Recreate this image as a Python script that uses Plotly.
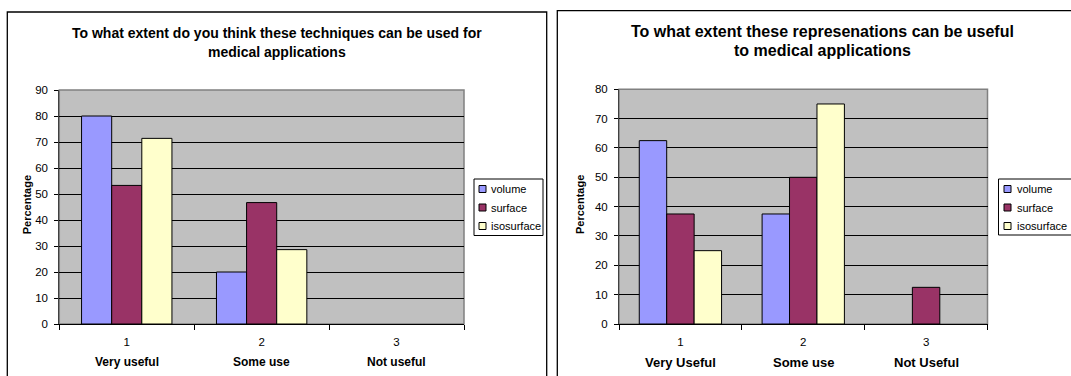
import plotly.graph_objects as go

# ---- data ----------------------------------------------------------------
series_names = ["volume", "surface", "isosurface"]
series_colors = ["#9999FF", "#993366", "#FFFFCC"]
tick_numbers = ["1", "2", "3"]

# left chart
left_title = ["To what extent do you think these techniques can be used for",
              "medical applications"]
left_categories = ["Very useful", "Some use", "Not useful"]
left_volume = [80.0, 20.0, 0.0]
left_surface = [53.3, 46.7, 0.0]
left_isosurface = [71.4, 28.6, 0.0]
left_yticks = list(range(0, 91, 10))

# right chart
right_title = ["To what extent these represenations can be useful",
               "to medical applications"]
right_categories = ["Very Useful", "Some use", "Not Useful"]
right_volume = [62.5, 37.5, 0.0]
right_surface = [37.5, 50.0, 12.5]
right_isosurface = [25.0, 75.0, 0.0]
right_yticks = list(range(0, 81, 10))

# ---- page geometry (pixels) ---------------------------------------------
W, H = 1071, 376
FONT = "Liberation Sans, Arial, sans-serif"


def px(x):
    return x / W


def py(y):
    return 1 - y / H


fig = go.Figure()

panels = [
    dict(xa="x", ya="y", vals=[left_volume, left_surface, left_isosurface],
         cats=left_categories, title=left_title, yticks=left_yticks,
         plot=(59.3, 90.0, 464.0, 324.0), frame=(7.3, 12.0, 546.7),
         title_x=277, title_y=(32.5, 51.5), title_size=14,
         ytitle_x=27.3, cat_size=12,
         legend=(474.0, 179.0, 543.0, 235.5), leg_sym=5.0, leg_txt=15.0),
    dict(xa="x2", ya="y2", vals=[right_volume, right_surface, right_isosurface],
         cats=right_categories, title=right_title, yticks=right_yticks,
         plot=(619.0, 89.3, 987.5, 324.0), frame=(557.3, 10.7, None),
         title_x=822, title_y=(31.7, 50.0), title_size=16,
         ytitle_x=579.4, cat_size=13,
         legend=(998.5, 179.0, 1080.0, 235.0), leg_sym=5.5, leg_txt=16.0),
]

shapes = []
annotations = []

for i, p in enumerate(panels):
    for name, color, vals in zip(series_names, series_colors, p["vals"]):
        fig.add_trace(go.Bar(
            x=tick_numbers, y=vals, name=name, xaxis=p["xa"], yaxis=p["ya"],
            marker=dict(color=color,
                        line=dict(color="black",
                                  width=[1 if v > 0 else 0 for v in vals])),
            showlegend=False, hoverinfo="x+y+name",
        ))

    x0, y0, x1, y1 = p["plot"]
    ymax = p["yticks"][-1]
    axis_suffix = "" if i == 0 else "2"
    fig.update_layout(**{
        "xaxis" + axis_suffix: dict(
            domain=[px(x0), px(x1)], anchor=p["ya"], type="category",
            categoryorder="array", categoryarray=tick_numbers,
            range=[-0.5, len(tick_numbers) - 0.5],
            tickson="boundaries", ticks="outside", ticklen=5, tickwidth=1,
            tickcolor="black", showline=True, linecolor="black", linewidth=1,
            showgrid=False, zeroline=False, ticklabelstandoff=7,
            tickfont=dict(size=11.5, color="black", family=FONT),
        ),
        "yaxis" + axis_suffix: dict(
            domain=[py(y1), py(y0)], anchor=p["xa"], range=[0, ymax],
            tickvals=p["yticks"], ticks="outside", ticklen=4, tickwidth=1,
            tickcolor="black", showline=True, linecolor="#404040",
            linewidth=1, showgrid=True, gridcolor="black", gridwidth=1,
            zeroline=False, ticklabelstandoff=4,
            tickfont=dict(size=11.5, color="black", family=FONT),
        ),
    })

    # grey border round the plot area
    shapes.append(dict(type="rect", xref=p["xa"] + " domain",
                       yref=p["ya"] + " domain", x0=0, x1=1, y0=0, y1=1,
                       line=dict(color="#808080", width=1.5), layer="below"))

    # chart frame
    fx0, fy0, fx1 = p["frame"]
    shapes.append(dict(type="rect", xref="paper", yref="paper",
                       x0=px(fx0), y0=py(fy0),
                       x1=px(fx1) if fx1 is not None else 1.05, y1=-0.05,
                       line=dict(color="black", width=1.3)))

    # two-line chart title
    for line, ty in zip(p["title"], p["title_y"]):
        annotations.append(dict(
            text="<b>%s</b>" % line, xref="paper", yref="paper",
            x=px(p["title_x"]), y=py(ty), xanchor="center", yanchor="middle",
            showarrow=False,
            font=dict(size=p["title_size"], color="black", family=FONT)))

    # y axis title
    annotations.append(dict(
        text="<b>Percentage</b>", xref="paper", yref="paper",
        x=px(p["ytitle_x"]), y=py((y0 + y1) / 2 - 2), textangle=-90,
        xanchor="center", yanchor="middle", showarrow=False,
        font=dict(size=11, color="black", family=FONT)))

    # category names under the tick numbers (category index positions)
    for k, cat in enumerate(p["cats"]):
        annotations.append(dict(
            text="<b>%s</b>" % cat, xref=p["xa"], yref="paper", x=k,
            y=py(362), xanchor="center", yanchor="middle", showarrow=False,
            font=dict(size=p["cat_size"], color="black", family=FONT)))

    # legend box with swatches
    lx0, ly0, lx1, ly1 = p["legend"]
    shapes.append(dict(type="rect", xref="paper", yref="paper",
                       x0=px(lx0), y0=py(ly0), x1=px(lx1), y1=py(ly1),
                       line=dict(color="black", width=1), fillcolor="white"))
    for k, (name, color) in enumerate(zip(series_names, series_colors)):
        cy = ly0 + 10.0 + k * 18.5
        sx = lx0 + p["leg_sym"]
        shapes.append(dict(type="rect", xref="paper", yref="paper",
                           x0=px(sx), x1=px(sx + 7), y0=py(cy - 3.5),
                           y1=py(cy + 3.5), fillcolor=color,
                           line=dict(color="black", width=1)))
        annotations.append(dict(
            text=name, xref="paper", yref="paper", x=px(lx0 + p["leg_txt"]),
            y=py(cy), xanchor="left", yanchor="middle", showarrow=False,
            font=dict(size=11, color="black", family=FONT)))

fig.update_layout(
    width=W, height=H, autosize=False,
    margin=dict(l=0, r=0, t=0, b=0, pad=0, autoexpand=False),
    paper_bgcolor="white", plot_bgcolor="#C0C0C0",
    barmode="group", bargap=0.33, bargroupgap=0,
    font=dict(family=FONT, color="black", size=11),
    shapes=shapes, annotations=annotations, showlegend=False,
)

fig.write_html("out.html", config={"displayModeBar": False})
